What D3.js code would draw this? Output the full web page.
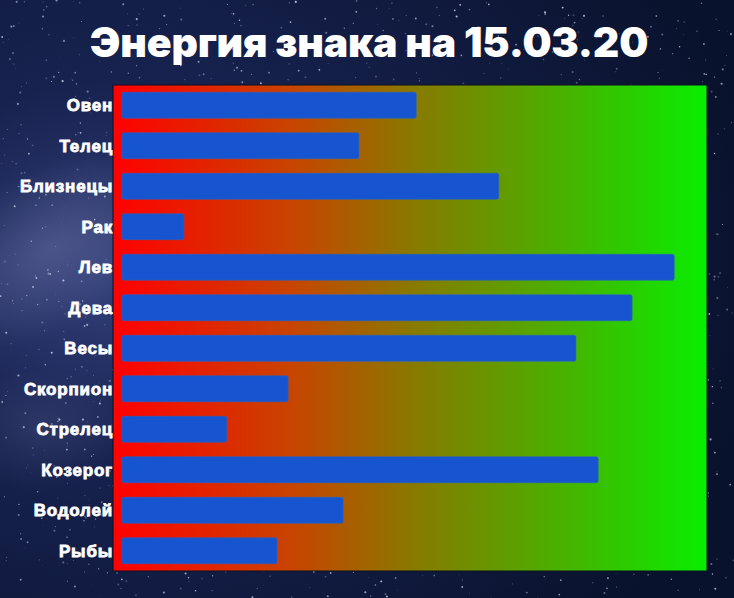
<!DOCTYPE html>
<html><head><meta charset="utf-8">
<script src="https://cdn.jsdelivr.net/npm/d3@7"></script>
<style>html,body{margin:0;padding:0;background:#0b1533;}svg{display:block;}</style>
</head><body>
<script>
const signs = ["Овен","Телец","Близнецы","Рак","Лев","Дева","Весы","Скорпион","Стрелец","Козерог","Водолей","Рыбы"];
const energy = [50.3,40.5,64.4,10.6,94.4,87.2,77.6,28.4,17.9,81.4,37.8,26.5];
const title = "Энергия знака на 15.03.20";

const W = 734, H = 598;
const svg = d3.select("body").append("svg").attr("width", W).attr("height", H);
const defs = svg.append("defs");

// background
const bg = defs.append("radialGradient").attr("id","bg").attr("cx","0.15").attr("cy","0.45").attr("r","0.9");
bg.append("stop").attr("offset","0").attr("stop-color","#33407a");
bg.append("stop").attr("offset","0.35").attr("stop-color","#17224f");
bg.append("stop").attr("offset","1").attr("stop-color","#09122c");
svg.append("rect").attr("width",W).attr("height",H).attr("fill","url(#bg)");
const mw = defs.append("radialGradient").attr("id","mw").attr("cx","0.5").attr("cy","0.5").attr("r","0.5");
mw.append("stop").attr("offset","0").attr("stop-color","#7a7fb0").attr("stop-opacity",0.4);
mw.append("stop").attr("offset","1").attr("stop-color","#7a7fb0").attr("stop-opacity",0);
svg.append("ellipse").attr("cx",50).attr("cy",250).attr("rx",140).attr("ry",80)
  .attr("transform","rotate(-30,50,250)").attr("fill","url(#mw)");
svg.append("ellipse").attr("cx",40).attr("cy",430).attr("rx",90).attr("ry",60).attr("fill","url(#mw)").attr("opacity",0.5);

// decorative stars (deterministic)
let seed = 12345;
const rnd = () => (seed = (seed * 1103515245 + 12345) % 2147483648) / 2147483648;
const stars = svg.append("g");
for (let i = 0; i < 1600; i++) {
  stars.append("circle").attr("cx", rnd()*W).attr("cy", rnd()*H)
    .attr("r", 0.3 + rnd()*0.8).attr("fill","#dfe6ff").attr("opacity", 0.2 + rnd()*0.6);
}

// title
svg.append("text").attr("x", 369).attr("y", 57).attr("text-anchor","middle")
  .attr("font-family","Inter, 'Open Sans', sans-serif").attr("font-weight",900)
  .attr("font-size",41).attr("fill","#ffffff").attr("letter-spacing","-0.2").text(title);

// plot area
const pL = 113, pR = 707, pT = 85, pB = 571;
const grad = defs.append("linearGradient").attr("id","rg").attr("x1","0").attr("x2","1").attr("y1","0").attr("y2","0");
[["0","#ff0000"],["0.3","#c84400"],["0.5","#8a7800"],["0.75","#4ab000"],["1","#08ee00"]]
  .forEach(([o,c]) => grad.append("stop").attr("offset",o).attr("stop-color",c));
svg.append("rect").attr("x",pL).attr("y",pT).attr("width",pR-pL).attr("height",pB-pT)
  .attr("fill","url(#rg)").attr("stroke","#0a1020").attr("stroke-width",1);

const x = d3.scaleLinear().domain([0,100]).range([122, 707]);
const y = d3.scaleBand().domain(signs).range([pT, pB]).paddingInner(0.36).paddingOuter(0.18);

svg.append("g").selectAll("rect").data(signs).join("rect")
  .attr("x", x(0)).attr("y", d => y(d))
  .attr("width", (d,i) => x(energy[i]) - x(0)).attr("height", y.bandwidth())
  .attr("rx", 2).attr("fill", "#1655cf").attr("stroke","#2a62c8").attr("stroke-width",0.6);

const yAxis = d3.axisLeft(y).tickSize(0).tickPadding(0);
const ag = svg.append("g").attr("transform", `translate(${pL},0)`).call(yAxis);
ag.select(".domain").remove();
ag.selectAll("text").attr("font-family","'Liberation Sans', Arial, sans-serif").attr("font-weight","bold")
  .attr("font-size",17).attr("fill","#ffffff").attr("stroke","#ffffff").attr("stroke-width",0.8)
  .attr("letter-spacing","0.8").attr("dy","0.35em");
</script>
</body></html>
